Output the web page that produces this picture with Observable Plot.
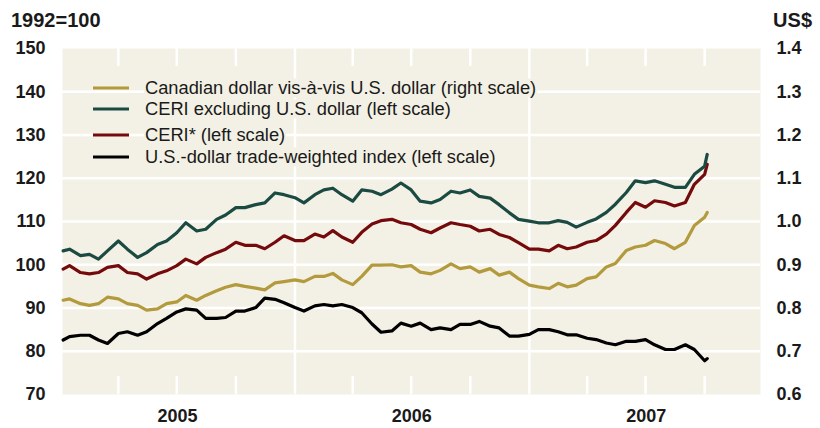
<!DOCTYPE html>
<html><head><meta charset="utf-8">
<script src="https://cdn.jsdelivr.net/npm/d3@7"></script>
<script src="https://cdn.jsdelivr.net/npm/@observablehq/plot@0.6"></script>
<style>body{margin:0;background:#fff}</style>
</head><body><div id="chart"></div>
<script>
// ---- data ----
const dates = [
"2005-01-05","2005-01-15","2005-02-01","2005-02-15","2005-03-01","2005-03-15","2005-04-01","2005-04-15","2005-05-01","2005-05-15","2005-06-01","2005-06-15",
"2005-07-01","2005-07-15","2005-08-01","2005-08-15","2005-09-01","2005-09-15","2005-10-01","2005-10-15","2005-11-01","2005-11-15","2005-12-01","2005-12-15",
"2006-01-01","2006-01-15","2006-02-01","2006-02-15","2006-03-01","2006-03-15","2006-04-01","2006-04-15","2006-05-01","2006-05-15","2006-06-01","2006-06-15",
"2006-07-01","2006-07-15","2006-08-01","2006-08-15","2006-09-01","2006-09-15","2006-10-01","2006-10-15","2006-11-01","2006-11-15","2006-12-01","2006-12-15",
"2007-01-01","2007-01-15","2007-02-01","2007-02-15","2007-03-01","2007-03-15","2007-04-01","2007-04-15","2007-05-01","2007-05-15","2007-06-01","2007-06-15",
"2007-07-01","2007-07-15","2007-08-01","2007-08-15","2007-09-01","2007-09-15","2007-10-01","2007-10-05"];

// Canadian dollar vis-à-vis U.S. dollar (US$, right scale)
const cadUSD = [
0.818,0.821,0.810,0.806,0.810,0.825,0.821,0.810,0.806,0.795,0.798,0.810,
0.814,0.829,0.818,0.829,0.840,0.848,0.854,0.850,0.846,0.842,0.858,0.861,
0.865,0.861,0.873,0.873,0.880,0.865,0.854,0.873,0.899,0.899,0.900,0.895,
0.898,0.883,0.879,0.887,0.902,0.891,0.895,0.883,0.891,0.876,0.883,0.868,
0.853,0.849,0.845,0.857,0.849,0.853,0.868,0.872,0.895,0.903,0.933,0.941,
0.945,0.956,0.949,0.937,0.952,0.991,1.010,1.021];

// CERI excluding U.S. dollar (left scale)
const ceriExUS = [
103.2,103.6,102.1,102.4,101.3,103.2,105.5,103.6,101.7,102.8,104.7,105.5,
107.4,109.7,107.8,108.2,110.5,111.5,113.2,113.2,113.9,114.3,116.6,116.2,
115.5,114.3,116.2,117.3,117.7,116.2,114.7,117.3,117.0,116.2,117.5,118.9,
117.3,114.7,114.3,115.1,117.0,116.6,117.3,115.8,115.4,113.9,112.0,110.5,
110.1,109.7,109.7,110.2,109.8,108.7,109.8,110.6,112.1,114.0,116.7,119.4,
119.0,119.4,118.6,117.9,117.9,120.9,122.8,125.5];

// CERI* (left scale)
const ceri = [
99.0,99.8,98.2,97.9,98.2,99.4,99.8,98.2,97.9,96.7,97.9,98.6,
99.8,101.3,100.2,101.7,102.8,103.6,105.2,104.5,104.5,103.7,105.2,106.7,
105.6,105.6,107.1,106.4,107.9,106.4,105.2,107.5,109.4,110.2,110.5,109.7,
109.3,108.2,107.4,108.5,109.7,109.3,108.9,107.8,108.2,107.0,106.3,105.1,
103.6,103.6,103.2,104.5,103.7,104.1,105.2,105.6,107.1,109.1,112.1,114.4,
113.3,114.8,114.4,113.6,114.4,118.6,120.9,123.2];

// U.S.-dollar trade-weighted index (left scale)
const usTWI = [
82.6,83.4,83.7,83.7,82.6,81.8,84.1,84.5,83.7,84.5,86.4,87.6,
89.1,89.8,89.5,87.6,87.6,87.8,89.3,89.3,90.1,92.3,92.0,91.2,
90.1,89.3,90.5,90.8,90.5,90.8,90.1,88.9,86.3,84.4,84.7,86.5,
85.8,86.5,85.0,85.4,85.0,86.2,86.2,86.9,85.8,85.4,83.5,83.5,
83.9,85.0,85.0,84.5,83.8,83.8,83.0,82.7,81.9,81.5,82.3,82.3,
82.7,81.5,80.4,80.4,81.5,80.4,77.8,78.3];

const leftTicks = [70,80,90,100,110,120,130,140,150];
const rightTicks = [0.6,0.7,0.8,0.9,1.0,1.1,1.2,1.3,1.4];
const yearLabels = ["2005","2006","2007"];
const yearStarts = ["2006-01-01","2007-01-01"];
const quarterStarts = ["2005-04-01","2005-07-01","2005-10-01","2006-04-01","2006-07-01","2006-10-01","2007-04-01","2007-07-01","2007-10-01"];
const xDomain = ["2005-01-04","2007-12-27"];

const seriesNames = [
  "Canadian dollar vis-à-vis U.S. dollar (right scale)",
  "CERI excluding U.S. dollar (left scale)",
  "CERI* (left scale)",
  "U.S.-dollar trade-weighted index (left scale)"
];
const colors = ["#b39a3d","#1b4a42","#740a0c","#000000"];

// ---- build ----
const parse = d3.utcParse("%Y-%m-%d");
const rows = dates.map((d, i) => ({date: parse(d), cad: cadUSD[i], ex: ceriExUS[i], ceri: ceri[i], us: usTWI[i]}));
const toLeft = v => 70 + (v - 0.6) * 100;   // right scale -> left scale
const toRight = v => (v - 70) / 100 + 0.6;

const W = 820, H = 428, mt = 48, mb = 34, ml = 62, mr = 60;
const plotH = H - mt - mb;
const bg = "#f3f1e5";
const font = "'Liberation Sans', Arial, Helvetica, sans-serif";
const grid = "#ffffff";
const tickLen = 18;
const lw = 3.2;

const chart = Plot.plot({
  width: W, height: H,
  marginTop: mt, marginBottom: mb, marginLeft: ml, marginRight: mr,
  style: {fontFamily: font, background: "#ffffff", color: "#1a1a1a"},
  x: {type: "utc", domain: xDomain.map(parse)},
  y: {domain: [leftTicks[0], leftTicks[leftTicks.length - 1]]},
  marks: [
    Plot.frame({fill: bg, stroke: null}),
    Plot.gridY(leftTicks.slice(1, -1), {stroke: grid, strokeOpacity: 1, strokeWidth: 2.5}),
    Plot.ruleX(yearStarts.map(parse), {stroke: grid, strokeWidth: 2.5}),
    Plot.ruleX(quarterStarts.map(parse), {stroke: grid, strokeWidth: 2.5, insetBottom: plotH - tickLen}),
    Plot.ruleX(quarterStarts.map(parse), {stroke: grid, strokeWidth: 2.5, insetTop: plotH - tickLen}),
    Plot.line(rows, {x: "date", y: d => toLeft(d.cad), stroke: colors[0], strokeWidth: lw}),
    Plot.line(rows, {x: "date", y: "us", stroke: colors[3], strokeWidth: lw}),
    Plot.line(rows, {x: "date", y: "ceri", stroke: colors[2], strokeWidth: lw}),
    Plot.line(rows, {x: "date", y: "ex", stroke: colors[1], strokeWidth: lw}),
    Plot.axisY(leftTicks, {anchor: "left", tickSize: 0, tickPadding: 17, fontSize: 18, fontWeight: "bold", label: null}),
    Plot.axisY(rightTicks.map(toLeft), {anchor: "right", tickSize: 0, tickPadding: 16, fontSize: 18, fontWeight: "bold", label: null,
      tickFormat: d => toRight(d).toFixed(1)}),
    Plot.axisX(yearLabels.map(y => parse(y + "-07-02")), {anchor: "bottom", tickSize: 0, tickPadding: 15, fontSize: 18, fontWeight: "bold", label: null,
      tickFormat: d3.utcFormat("%Y")})
  ]
});

document.getElementById("chart").appendChild(chart);

// titles and legend (inside the SVG)
const svg = d3.select(chart);
svg.append("text").attr("x", 11).attr("y", 27).attr("text-anchor", "start").attr("font-family", font).attr("font-size", 20).attr("font-weight", "bold")
  .attr("fill", "#1a1a1a").text("1992=100");
svg.append("text").attr("x", 812).attr("y", 27).attr("text-anchor", "end").attr("font-family", font).attr("font-size", 20).attr("font-weight", "bold")
  .attr("fill", "#1a1a1a").text("US$");

const legendY = [88, 109, 135, 157];
const lg = svg.append("g");
seriesNames.forEach((name, i) => {
  const gRow = lg.append("g");
  const rect = gRow.append("rect").attr("fill", bg);
  const t = gRow.append("text").attr("x", 145).attr("y", legendY[i]).attr("dy", "0.35em").attr("text-anchor", "start")
    .attr("font-family", font).attr("font-size", 18.3).attr("fill", "#1a1a1a").text(name);
  const bb = t.node().getBBox();
  rect.attr("x", bb.x - 1).attr("y", bb.y + 1).attr("width", bb.width + 2).attr("height", bb.height - 2);
  gRow.append("line").attr("x1", 93).attr("x2", 129).attr("y1", legendY[i]).attr("y2", legendY[i])
    .attr("stroke", colors[i]).attr("stroke-width", 3);
});
</script>
</body></html>
